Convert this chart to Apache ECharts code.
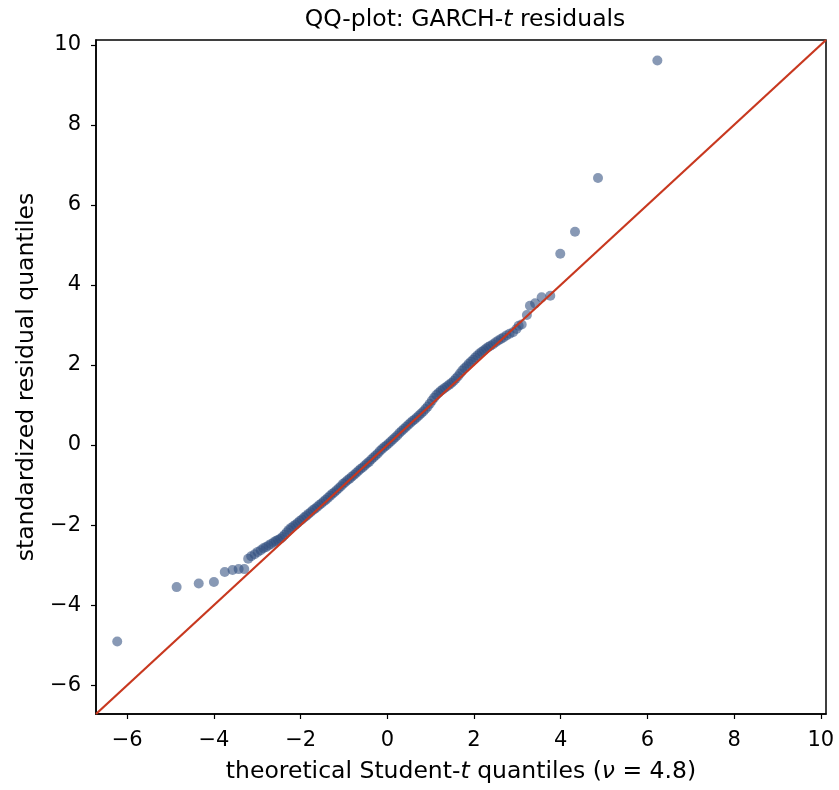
<!DOCTYPE html>
<html>
<head>
<meta charset="utf-8">
<script src="https://cdn.jsdelivr.net/npm/echarts@6/dist/echarts.min.js"></script>
<style>
  html, body { margin: 0; padding: 0; background: #fff; }
  #chart { width: 839px; height: 790px; }
</style>
</head>
<body>
<div id="chart"></div>
<script>
// theoretical Student-t quantiles (x) and standardized residual quantiles (y)
const theoQ = [
  -6.23, -4.86, -4.35, -4.00, -3.75, -3.57, -3.43, -3.30, -3.21, -3.14,
  -3.06, -2.99, -2.92, -2.86, -2.80, -2.74, -2.68, -2.62, -2.57, -2.52,
  -2.47, -2.42, -2.37, -2.32, -2.27, -2.22, -2.17, -2.12, -2.07, -2.02,
  -1.97, -1.92, -1.87, -1.82, -1.77, -1.72, -1.67, -1.62, -1.57, -1.52,
  -1.47, -1.42, -1.37, -1.32, -1.27, -1.22, -1.17, -1.12, -1.07, -1.02,
  -0.97, -0.92, -0.87, -0.82, -0.77, -0.72, -0.67, -0.62, -0.57, -0.52,
  -0.47, -0.42, -0.37, -0.32, -0.27, -0.22, -0.17, -0.12, -0.07, -0.02,
  0.03, 0.08, 0.13, 0.18, 0.23, 0.28, 0.33, 0.38, 0.43, 0.48,
  0.53, 0.58, 0.63, 0.68, 0.73, 0.78, 0.83, 0.88, 0.93, 0.98,
  1.03, 1.08, 1.13, 1.18, 1.23, 1.28, 1.33, 1.38, 1.43, 1.48,
  1.53, 1.58, 1.63, 1.68, 1.73, 1.78, 1.83, 1.88, 1.93, 1.98,
  2.03, 2.08, 2.13, 2.18, 2.23, 2.28, 2.33, 2.38, 2.44, 2.50,
  2.56, 2.62, 2.68, 2.75, 2.82, 2.90, 2.98, 3.03, 3.10, 3.22,
  3.29, 3.41, 3.56, 3.76, 3.99, 4.33, 4.86, 6.23
];
const residQ = [
  -4.91, -3.55, -3.46, -3.42, -3.17, -3.12, -3.10, -3.10, -2.84, -2.78,
  -2.73, -2.67, -2.63, -2.58, -2.55, -2.51, -2.47, -2.43, -2.40, -2.37,
  -2.34, -2.30, -2.24, -2.18, -2.12, -2.07, -2.03, -1.99, -1.95, -1.90,
  -1.86, -1.81, -1.77, -1.72, -1.68, -1.63, -1.59, -1.55, -1.50, -1.46,
  -1.41, -1.37, -1.32, -1.27, -1.22, -1.18, -1.13, -1.08, -1.03, -0.97,
  -0.93, -0.88, -0.84, -0.79, -0.75, -0.70, -0.65, -0.60, -0.56, -0.51,
  -0.46, -0.42, -0.36, -0.31, -0.26, -0.21, -0.15, -0.10, -0.05, -0.01,
  0.04, 0.09, 0.14, 0.19, 0.24, 0.30, 0.35, 0.40, 0.45, 0.50,
  0.55, 0.60, 0.64, 0.69, 0.74, 0.79, 0.84, 0.90, 0.96, 1.03,
  1.11, 1.18, 1.25, 1.30, 1.35, 1.39, 1.43, 1.47, 1.51, 1.55,
  1.60, 1.66, 1.72, 1.79, 1.86, 1.92, 1.97, 2.03, 2.08, 2.13,
  2.19, 2.24, 2.29, 2.33, 2.37, 2.41, 2.45, 2.48, 2.52, 2.57,
  2.61, 2.65, 2.69, 2.74, 2.78, 2.82, 2.90, 2.98, 3.01, 3.25,
  3.48, 3.54, 3.69, 3.73, 4.78, 5.33, 6.67, 9.61
];
// 45-degree reference line ends
const refLine = [-6.72, 10.12];
const tickVals = [-6, -4, -2, 0, 2, 4, 6, 8, 10];

const FONT = 'DejaVu Sans';
const fmt = v => (v < 0 ? '\u2212' + (-v) : String(v));

const chart = echarts.init(document.getElementById('chart'), null, { renderer: 'canvas' });

const axisCommon = {
  type: 'value',
  min: refLine[0],
  max: refLine[1],
  splitLine: { show: false },
  axisLine: { show: true, onZero: false, lineStyle: { color: '#000', width: 1.5 } },
  axisTick: { show: true, inside: false, length: 5, lineStyle: { color: '#000', width: 1.2 }, customValues: tickVals },
  nameLocation: 'middle',
  nameTextStyle: {
    fontFamily: FONT, fontSize: 23.5, color: '#000',
    rich: { i: { fontFamily: FONT, fontSize: 23.5, fontStyle: 'italic', color: '#000' } }
  }
};

chart.setOption({
  animation: false,
  backgroundColor: '#fff',
  title: {
    text: 'QQ-plot: GARCH-{i|t} residuals',
    left: 460,
    textAlign: 'center',
    top: 3,
    textStyle: {
      fontFamily: FONT, fontSize: 23.5, fontWeight: 'normal', color: '#000',
      rich: { i: { fontFamily: FONT, fontSize: 23.5, fontStyle: 'italic', color: '#000' } }
    }
  },
  grid: {
    left: 96, right: 13, top: 40, bottom: 76,
    show: true, borderColor: '#000', borderWidth: 1.5
  },
  xAxis: Object.assign({}, axisCommon, {
    name: 'theoretical Student-{i|t} quantiles ({i|ν} = 4.8)',
    nameGap: 46,
    axisLabel: {
      fontFamily: FONT, fontSize: 21, color: '#000', margin: 16,
      customValues: tickVals, formatter: fmt
    }
  }),
  yAxis: Object.assign({}, axisCommon, {
    name: 'standardized residual quantiles',
    nameGap: 32,
    axisLabel: {
      fontFamily: FONT, fontSize: 21, color: '#000', margin: 15,
      customValues: tickVals, formatter: fmt
    }
  }),
  series: [
    {
      type: 'scatter',
      data: theoQ.map((x, i) => [x, residQ[i]]),
      symbolSize: 10,
      itemStyle: { color: 'rgba(48,78,126,0.72)' },
      z: 2
    },
    {
      type: 'line',
      data: refLine.map(v => [v, v]),
      showSymbol: false,
      clip: true,
      lineStyle: { color: '#c8381f', width: 2.2 },
      z: 3
    }
  ]
});
</script>
</body>
</html>
